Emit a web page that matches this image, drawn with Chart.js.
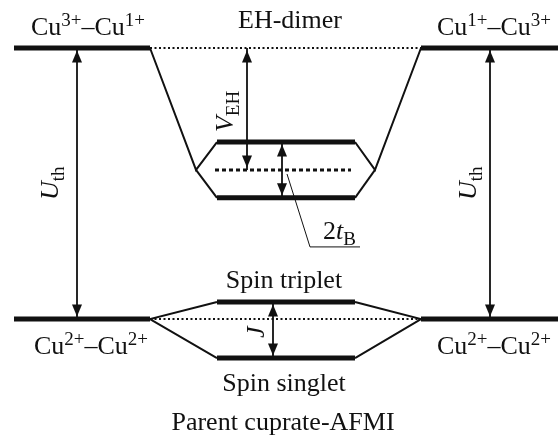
<!DOCTYPE html>
<html>
<head>
<meta charset="utf-8">
<script src="https://cdn.jsdelivr.net/npm/chart.js@4/dist/chart.umd.min.js"></script>
<style>
html, body { margin: 0; padding: 0; background: #fff; }
canvas { display: block; }
</style>
</head>
<body>
<canvas id="diagram" width="558" height="437"></canvas>
<script>
// energies in units of U_th, ground pair Cu2+-Cu2+ at 0
const chargeLevel = 1.0;
const groundLevel = 0.0;
const ehLevels = [0.653, 0.55, 0.447];     // upper, centre, lower
const spinLevels = [0.063, -0.144];        // triplet, singlet

// horizontal extent of the columns (diagram x units)
const leftCol = [14, 150];
const rightCol = [421, 558];
const midCol = [217, 355];
const ehVertex = [196, 375];

// arrows: x position, from energy, to energy
const arrowX = [77, 490, 247, 282, 273];
const arrowFrom = [chargeLevel, chargeLevel, chargeLevel, ehLevels[0], spinLevels[0]];
const arrowTo = [groundLevel, groundLevel, ehLevels[1], ehLevels[2], spinLevels[1]];

// text: parts are [text, kind]  kind: r roman, i italic, sup, sub
const labels = [
  { parts: [['Cu', 'r'], ['3+', 'sup'], ['\u2013Cu', 'r'], ['1+', 'sup']], x: 88, e: 1.048 },
  { parts: [['EH-dimer', 'r']], x: 290, e: 1.074 },
  { parts: [['Cu', 'r'], ['1+', 'sup'], ['\u2013Cu', 'r'], ['3+', 'sup']], x: 494, e: 1.048 },
  { parts: [['Cu', 'r'], ['2+', 'sup'], ['\u2013Cu', 'r'], ['2+', 'sup']], x: 91, e: -0.129 },
  { parts: [['Cu', 'r'], ['2+', 'sup'], ['\u2013Cu', 'r'], ['2+', 'sup']], x: 494, e: -0.129 },
  { parts: [['Spin triplet', 'r']], x: 284, e: 0.114 },
  { parts: [['Spin singlet', 'r']], x: 284, e: -0.266 },
  { parts: [['Parent cuprate-AFMI', 'r']], x: 283, e: -0.410 },
  { parts: [['V', 'i'], ['EH', 'sub']], x: 233, e: 0.690, rotate: true },
  { parts: [['U', 'i'], ['th', 'sub']], x: 58, e: 0.439, rotate: true },
  { parts: [['U', 'i'], ['th', 'sub']], x: 476, e: 0.439, rotate: true },
  { parts: [['J', 'i']], x: 264, e: -0.070, rotate: true },
  { parts: [['2', 'r'], ['t', 'i'], ['B', 'sub']], x: 323, e: 0.295, left: true }
];

const pointerX = [287, 310, 360];
const pointerE = [0.535, 0.266, 0.266];

const FAMILY = '"Liberation Serif", "Times New Roman", serif';

function seg(x0, x1, e) {
  return [{ x: x0, y: e }, { x: x1, y: e }];
}
function line(data, width, dash) {
  return {
    data: data, showLine: true, pointRadius: 0, borderColor: '#111',
    borderWidth: width, borderDash: dash || [], fill: false, tension: 0,
    borderJoinStyle: 'miter'
  };
}

const datasets = [];
// thick levels
datasets.push(line(seg(leftCol[0], leftCol[1], chargeLevel), 5));
datasets.push(line(seg(rightCol[0], rightCol[1], chargeLevel), 5));
datasets.push(line(seg(leftCol[0], leftCol[1], groundLevel), 5));
datasets.push(line(seg(rightCol[0], rightCol[1], groundLevel), 5));
datasets.push(line(seg(midCol[0], midCol[1], ehLevels[0]), 5));
datasets.push(line(seg(midCol[0], midCol[1], ehLevels[2]), 5));
datasets.push(line(seg(midCol[0], midCol[1], spinLevels[0]), 5));
datasets.push(line(seg(midCol[0], midCol[1], spinLevels[1]), 5));
// connectors
datasets.push(line([{ x: leftCol[1], y: chargeLevel }, { x: ehVertex[0], y: ehLevels[1] }, { x: midCol[0], y: ehLevels[0] }], 2));
datasets.push(line([{ x: ehVertex[0], y: ehLevels[1] }, { x: midCol[0], y: ehLevels[2] }], 2));
datasets.push(line([{ x: rightCol[0], y: chargeLevel }, { x: ehVertex[1], y: ehLevels[1] }, { x: midCol[1], y: ehLevels[0] }], 2));
datasets.push(line([{ x: ehVertex[1], y: ehLevels[1] }, { x: midCol[1], y: ehLevels[2] }], 2));
datasets.push(line([{ x: midCol[0], y: spinLevels[0] }, { x: leftCol[1], y: groundLevel }, { x: midCol[0], y: spinLevels[1] }], 2));
datasets.push(line([{ x: midCol[1], y: spinLevels[0] }, { x: rightCol[0], y: groundLevel }, { x: midCol[1], y: spinLevels[1] }], 2));
// guides
datasets.push(line(seg(leftCol[1], rightCol[0], chargeLevel), 2, [2, 2.5]));
datasets.push(line(seg(leftCol[1], rightCol[0], groundLevel), 2, [2, 2.5]));
datasets.push(line(seg(midCol[0] - 2, midCol[1] - 4, ehLevels[1]), 3, [4, 3]));
// pointer for 2tB
datasets.push(line(pointerX.map((x, i) => ({ x: x, y: pointerE[i] })), 1));
// arrows
arrowX.forEach((x, i) => {
  const d = line([{ x: x, y: arrowFrom[i] }, { x: x, y: arrowTo[i] }], 1.8);
  d.arrow = true;
  datasets.push(d);
});

function head(ctx, tip, from) {
  const dx = tip.x - from.x, dy = tip.y - from.y;
  const len = Math.hypot(dx, dy);
  const ux = dx / len, uy = dy / len;
  const tx = tip.x - ux * 2.5, ty = tip.y - uy * 2.5;
  const bx = tx - ux * 12, by = ty - uy * 12;
  ctx.beginPath();
  ctx.moveTo(tx, ty);
  ctx.lineTo(bx - uy * 5, by + ux * 5);
  ctx.lineTo(bx + uy * 5, by - ux * 5);
  ctx.closePath();
  ctx.fill();
}

function fontFor(kind) {
  if (kind === 'i') return 'italic 26px ' + FAMILY;
  if (kind === 'sup' || kind === 'sub') return '19px ' + FAMILY;
  return '26px ' + FAMILY;
}
function shiftFor(kind) {
  if (kind === 'sup') return -9;
  if (kind === 'sub') return 6;
  return 0;
}

const decorations = {
  id: 'decorations',
  afterDatasetsDraw(chart) {
    const ctx = chart.ctx;
    const xs = chart.scales.x, ys = chart.scales.y;
    ctx.save();
    ctx.fillStyle = '#111';
    chart.data.datasets.forEach((ds, i) => {
      if (!ds.arrow) return;
      const pts = chart.getDatasetMeta(i).data;
      const a = pts[0], b = pts[pts.length - 1];
      head(ctx, a, b);
      head(ctx, b, a);
    });
    ctx.textBaseline = 'alphabetic';
    ctx.textAlign = 'left';
    labels.forEach(lb => {
      let w = 0;
      lb.parts.forEach(p => { ctx.font = fontFor(p[1]); w += ctx.measureText(p[0]).width; });
      const px = xs.getPixelForValue(lb.x), py = ys.getPixelForValue(lb.e);
      ctx.save();
      ctx.translate(px, py);
      if (lb.rotate) ctx.rotate(-Math.PI / 2);
      let cx = (lb.rotate || lb.left) ? 0 : -w / 2;
      lb.parts.forEach(p => {
        ctx.font = fontFor(p[1]);
        ctx.fillText(p[0], cx, shiftFor(p[1]));
        cx += ctx.measureText(p[0]).width;
      });
      ctx.restore();
    });
    ctx.restore();
  }
};

new Chart(document.getElementById('diagram'), {
  type: 'scatter',
  data: { datasets: datasets },
  options: {
    responsive: false,
    animation: false,
    layout: { padding: 0 },
    plugins: { legend: { display: false }, tooltip: { enabled: false } },
    scales: {
      x: { type: 'linear', min: 0, max: 558, display: false },
      y: { type: 'linear', min: -0.4354, max: 1.1771, display: false }
    }
  },
  plugins: [decorations]
});
</script>
</body>
</html>
